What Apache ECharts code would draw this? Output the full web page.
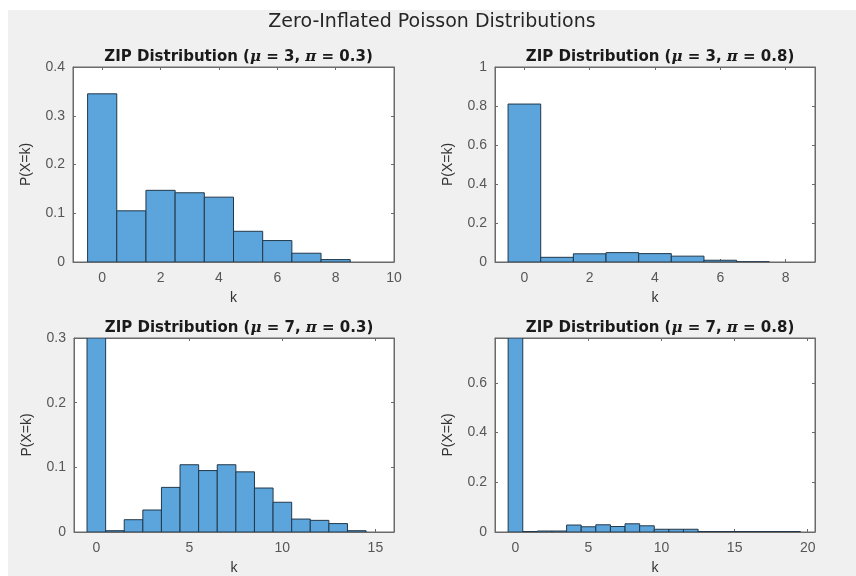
<!DOCTYPE html>
<html>
<head>
<meta charset="utf-8">
<script src="https://cdn.jsdelivr.net/npm/echarts@6/dist/echarts.min.js"></script>
<style>
html,body{margin:0;padding:0;background:#fff;}
#chart{width:856px;height:576px;}
</style>
</head>
<body>
<div id="chart"></div>
<script>
// ---- data ----
const mainTitle = 'Zero-Inflated Poisson Distributions';
const panelMu = [3, 3, 7, 7];
const panelPi = ['0.3', '0.8', '0.3', '0.8'];

const kA = [0, 1, 2, 3, 4, 5, 6, 7, 8];
const pA = [0.345, 0.105, 0.147, 0.142, 0.133, 0.063, 0.044, 0.018, 0.005];

const kB = [0, 1, 2, 3, 4, 5, 6, 7];
const pB = [0.81, 0.024, 0.042, 0.048, 0.043, 0.030, 0.009, 0.001];

const kC = [0, 1, 2, 3, 4, 5, 6, 7, 8, 9, 10, 11, 12, 13, 14];
const pC = [0.31, 0.002, 0.019, 0.034, 0.069, 0.104, 0.095, 0.104, 0.093, 0.068, 0.046, 0.020, 0.018, 0.013, 0.002];

const kD = [0, 1, 2, 3, 4, 5, 6, 7, 8, 9, 10, 11, 12, 13, 14, 15, 16, 17, 18, 19];
const pD = [0.79, 0.002, 0.004, 0.004, 0.028, 0.021, 0.029, 0.022, 0.033, 0.025, 0.011, 0.011, 0.011, 0.002, 0.002, 0.002, 0.002, 0.002, 0.002, 0.002];

const xTicksA = [0, 2, 4, 6, 8, 10];
const xTicksB = [0, 2, 4, 6, 8];
const xTicksC = [0, 5, 10, 15];
const xTicksD = [0, 5, 10, 15, 20];
const yTicksA = [0, 0.1, 0.2, 0.3, 0.4];
const yTicksB = [0, 0.2, 0.4, 0.6, 0.8, 1];
const yTicksC = [0, 0.1, 0.2, 0.3];
const yTicksD = [0, 0.2, 0.4, 0.6];

const xRanges = [[-1, 10], [-0.9, 8.9], [-1.2, 16], [-1.4, 20.5]];
const yRanges = [[0, 0.4], [0, 1], [0, 0.3], [0, 0.78]];
const xLabelName = 'k';
const yLabelName = 'P(X=k)';

// ---- layout / style ----
const grids = [
  {left: 73, top: 67, width: 321, height: 195},
  {left: 495, top: 67, width: 320, height: 195},
  {left: 74, top: 338, width: 320, height: 195},
  {left: 495, top: 338, width: 320, height: 195}
];
const panels = [
  {k: kA, p: pA, xt: xTicksA, yt: yTicksA},
  {k: kB, p: pB, xt: xTicksB, yt: yTicksB},
  {k: kC, p: pC, xt: xTicksC, yt: yTicksC},
  {k: kD, p: pD, xt: xTicksD, yt: yTicksD}
];
const FONT = '"Liberation Sans", Arial, Helvetica, sans-serif';
const TFONT = '"DejaVu Sans", "Liberation Sans", sans-serif';
const axisCol = '#6a6a6a';
const labelCol = '#575757';
const barFill = '#5ba5dc';
const barEdge = '#22384a';

const chart = echarts.init(document.getElementById('chart'), null, {renderer: 'canvas'});

const option = {
  backgroundColor: '#ffffff',
  animation: false,
  graphic: [{
    type: 'rect', z: -10, silent: true,
    shape: {x: 8, y: 10, width: 848, height: 566},
    style: {fill: '#f0f0f0'}
  }],
  title: [],
  grid: [],
  xAxis: [],
  yAxis: [],
  series: []
};

option.title.push({
  text: mainTitle,
  left: 427, top: 8, textAlign: 'center',
  textStyle: {fontFamily: TFONT, fontSize: 19, fontWeight: 'normal', color: '#262626'}
});

function fmt(v) { return String(+v.toFixed(2)); }

grids.forEach((g, i) => {
  const P = panels[i];
  option.grid.push({
    left: g.left, top: g.top, width: g.width, height: g.height,
    show: true, backgroundColor: '#ffffff', borderColor: axisCol, borderWidth: 1,
    containLabel: false
  });
  option.title.push({
    text: '{b|ZIP Distribution (}{i|\u03bc}{b| = ' + panelMu[i] + ', }{i|\u03c0}{b| = ' + panelPi[i] + ')}',
    left: g.left + g.width / 2, top: g.top - 23, textAlign: 'center',
    textStyle: {
      rich: {
        b: {fontFamily: TFONT, fontSize: 15, fontWeight: 'bold', color: '#1a1a1a', lineHeight: 17},
        i: {fontFamily: '"DejaVu Serif", "Liberation Serif", serif', fontSize: 15, fontStyle: 'italic', fontWeight: 'bold', color: '#1a1a1a', lineHeight: 17}
      }
    }
  });
  option.xAxis.push({
    type: 'value', gridIndex: i, position: 'bottom',
    min: xRanges[i][0], max: xRanges[i][1],
    name: xLabelName, nameLocation: 'middle', nameGap: 29,
    nameTextStyle: {fontFamily: FONT, fontSize: 14, color: '#333'},
    axisLine: {show: true, onZero: false, lineStyle: {color: axisCol, width: 1}},
    axisTick: {show: true, inside: true, length: 3, customValues: P.xt, lineStyle: {color: axisCol}},
    axisLabel: {customValues: P.xt, fontFamily: FONT, fontSize: 14, color: labelCol, margin: 9, formatter: fmt},
    splitLine: {show: false}
  });
  option.yAxis.push({
    type: 'value', gridIndex: i, position: 'left',
    min: yRanges[i][0], max: yRanges[i][1],
    name: yLabelName, nameLocation: 'middle', nameGap: 40, nameRotate: 90,
    nameTextStyle: {fontFamily: FONT, fontSize: 14, color: '#333'},
    axisLine: {show: true, onZero: false, lineStyle: {color: axisCol, width: 1}},
    axisTick: {show: true, inside: true, length: 3, customValues: P.yt, lineStyle: {color: axisCol}},
    axisLabel: {customValues: P.yt, fontFamily: FONT, fontSize: 14, color: labelCol, margin: 8, formatter: fmt},
    splitLine: {show: false}
  });
});
// secondary (box) axes for top/right ticks
grids.forEach((g, i) => {
  const P = panels[i];
  option.xAxis.push({
    type: 'value', gridIndex: i, position: 'top',
    min: xRanges[i][0], max: xRanges[i][1],
    axisLine: {show: true, onZero: false, lineStyle: {color: axisCol}},
    axisTick: {show: true, inside: true, length: 3, customValues: P.xt, lineStyle: {color: axisCol}},
    axisLabel: {show: false}, splitLine: {show: false}
  });
  option.yAxis.push({
    type: 'value', gridIndex: i, position: 'right',
    min: yRanges[i][0], max: yRanges[i][1],
    axisLine: {show: true, onZero: false, lineStyle: {color: axisCol}},
    axisTick: {show: true, inside: true, length: 3, customValues: P.yt, lineStyle: {color: axisCol}},
    axisLabel: {show: false}, splitLine: {show: false}
  });
});

function renderBar(params, api) {
  const k = api.value(0);
  const v = api.value(1);
  const p0 = api.coord([k - 0.5, 0]);
  const p1 = api.coord([k + 0.5, v]);
  const rect = echarts.graphic.clipRectByRect(
    {x: p0[0], y: p1[1], width: p1[0] - p0[0], height: p0[1] - p1[1]},
    {x: params.coordSys.x, y: params.coordSys.y, width: params.coordSys.width, height: params.coordSys.height}
  );
  if (!rect) return null;
  return {
    type: 'rect',
    shape: rect,
    style: {fill: barFill, stroke: barEdge, lineWidth: 1}
  };
}

panels.forEach((P, i) => {
  option.series.push({
    type: 'custom', xAxisIndex: i, yAxisIndex: i,
    renderItem: renderBar,
    encode: {x: 0, y: 1},
    data: P.k.map((k, j) => [k, P.p[j]]),
    clip: true
  });
});

chart.setOption(option);
</script>
</body>
</html>
